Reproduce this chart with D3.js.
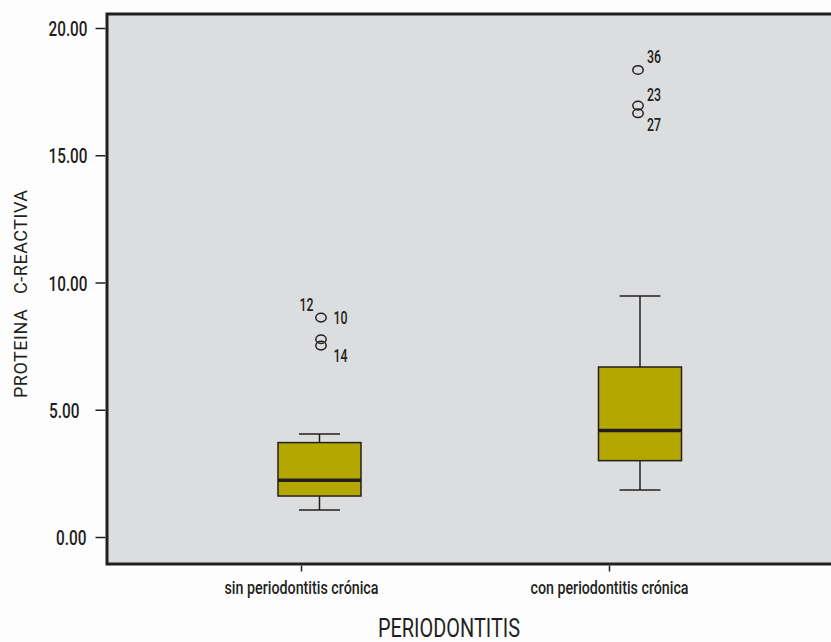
<!DOCTYPE html>
<html>
<head>
<meta charset="utf-8">
<script src="https://cdn.jsdelivr.net/npm/d3@7"></script>
<style>
  html, body { margin: 0; padding: 0; background: #fdfdfd; }
  svg { display: block; }
  text { font-family: Roboto, "Noto Sans", sans-serif; fill: #231f20; }
</style>
</head>
<body>
<svg id="chart" width="831" height="642"></svg>
<script>
// Groups and their box-plot summaries (PCR values)
const categories = ["sin periodontitis crónica", "con periodontitis crónica"];
const whiskerLow  = [1.06, 1.85];
const q1          = [1.61, 3.00];
const median      = [2.23, 4.18];
const q3          = [3.71, 6.68];
const whiskerHigh = [4.05, 9.47];

// Outlying cases: group index, value
const outlierGroup = [0, 0, 0, 1, 1, 1];
const outlierValue = [8.62, 7.77, 7.52, 18.35, 16.95, 16.65];

const yTicks = [0, 5, 10, 15, 20];

const svg = d3.select("#chart");
const plot = { left: 107, top: 14, right: 831, bottom: 564 };
const ink = "#231f20";

// Condensed look: squeeze each label to a set width
function squeeze(sel, widthFn) {
  sel.each(function (d, i) {
    const w = widthFn(d, i, this);
    d3.select(this).attr("textLength", w).attr("lengthAdjust", "spacingAndGlyphs");
  });
}

// Plot background
svg.append("rect")
  .attr("x", plot.left).attr("y", plot.top)
  .attr("width", plot.right - plot.left).attr("height", plot.bottom - plot.top)
  .attr("fill", "#dcdddf");

const y = d3.scaleLinear().domain([0, 20]).range([537, 28]);
const x = d3.scalePoint().domain(categories).range([301, 609]);
// Box centres sit to the right of the category ticks
const boxShift = [18.5, 31];
const cx = i => x(categories[i]) + boxShift[i];
const dotShift = [1.5, -2];
const boxHalf = 41.5, capHalf = 20.5;

// Frame: left, top and bottom edges
svg.append("path")
  .attr("d", `M${plot.right},${plot.top}H${plot.left}V${plot.bottom}H${plot.right}`)
  .attr("fill", "none").attr("stroke", ink).attr("stroke-width", 3);

// Y axis
const yAxis = d3.axisLeft(y).tickValues(yTicks).tickFormat(d3.format(".2f")).tickSize(10).tickPadding(8);
const gy = svg.append("g").attr("transform", `translate(${plot.left - 1.5},0)`).call(yAxis);
gy.select(".domain").remove();
gy.selectAll(".tick line").attr("stroke", ink).attr("stroke-width", 1.5);
gy.selectAll(".tick text")
  .attr("font-size", 21).attr("font-weight", 500).attr("fill", ink)
  .attr("font-family", "Roboto, sans-serif")
  .attr("dy", "0.36em")
  .attr("dx", d => (d === 5 ? -8 : d === 0 ? -1 : 0))
  .call(squeeze, d => (d >= 10 ? 39 : 30.5));

// X axis
const xAxis = d3.axisBottom(x).tickSize(6).tickPadding(8);
const gx = svg.append("g").attr("transform", `translate(0,${plot.bottom + 1.5})`).call(xAxis);
gx.select(".domain").remove();
gx.selectAll(".tick line").attr("stroke", ink).attr("stroke-width", 1.5);
gx.selectAll(".tick text")
  .attr("font-size", 18).attr("font-weight", 500).attr("fill", ink)
  .attr("font-family", "Roboto, sans-serif")
  .attr("y", 28).attr("dy", 0)
  .call(squeeze, (d, i) => (i === 0 ? 154 : 158));

// Boxes
const idx = categories.map((_, i) => i);
const boxes = svg.append("g");
idx.forEach(i => {
  const g = boxes.append("g");
  g.append("line").attr("x1", cx(i)).attr("x2", cx(i))
    .attr("y1", y(whiskerHigh[i])).attr("y2", y(q3[i]))
    .attr("stroke", ink).attr("stroke-width", 1.5);
  g.append("line").attr("x1", cx(i)).attr("x2", cx(i))
    .attr("y1", y(q1[i])).attr("y2", y(whiskerLow[i]))
    .attr("stroke", ink).attr("stroke-width", 1.5);
  [whiskerHigh[i], whiskerLow[i]].forEach(v => {
    g.append("line").attr("x1", cx(i) - capHalf).attr("x2", cx(i) + capHalf)
      .attr("y1", y(v)).attr("y2", y(v))
      .attr("stroke", ink).attr("stroke-width", 1.5);
  });
  g.append("rect").attr("x", cx(i) - boxHalf).attr("y", y(q3[i]))
    .attr("width", boxHalf * 2).attr("height", y(q1[i]) - y(q3[i]))
    .attr("fill", "#b4a700").attr("stroke", ink).attr("stroke-width", 1.5);
  g.append("line").attr("x1", cx(i) - boxHalf).attr("x2", cx(i) + boxHalf)
    .attr("y1", y(median[i])).attr("y2", y(median[i]))
    .attr("stroke", ink).attr("stroke-width", 3.5);
});

// Outliers
const outliers = svg.append("g");
outlierValue.forEach((v, k) => {
  const g = outlierGroup[k];
  outliers.append("ellipse").attr("cx", cx(g) + dotShift[g]).attr("cy", y(v))
    .attr("rx", 5.2).attr("ry", 4.3)
    .attr("fill", "none").attr("stroke", ink).attr("stroke-width", 1.5);
});
// Case labels, placed relative to their points
const labelPos = [
  { k: 0, dx: 12.5, dy: 6, t: "10" },
  { k: 0, dx: -21.5, dy: -7, t: "12" },
  { k: 2, dx: 12.5, dy: 16, t: "14" },
  { k: 3, dx: 9, dy: -7, t: "36" },
  { k: 4, dx: 9, dy: -5, t: "23" },
  { k: 5, dx: 9, dy: 18, t: "27" }
];
labelPos.forEach(l => {
  const g = outlierGroup[l.k];
  outliers.append("text")
    .attr("x", cx(g) + dotShift[g] + l.dx)
    .attr("y", y(outlierValue[l.k]) + l.dy)
    .attr("font-size", 18).attr("font-weight", 500)
    .attr("textLength", 14).attr("lengthAdjust", "spacingAndGlyphs")
    .text(l.t);
});

// Axis titles
svg.append("text")
  .attr("transform", `translate(27,294) rotate(-90)`)
  .attr("text-anchor", "middle").attr("font-size", 18)
  .attr("xml:space", "preserve")
  .attr("textLength", 208).attr("lengthAdjust", "spacing")
  .text("PROTEINA   C-REACTIVA");

svg.append("text")
  .attr("x", 449).attr("y", 637)
  .attr("text-anchor", "middle").attr("font-size", 25).attr("font-weight", 400)
  .attr("textLength", 142).attr("lengthAdjust", "spacingAndGlyphs")
  .text("PERIODONTITIS");
</script>
</body>
</html>
